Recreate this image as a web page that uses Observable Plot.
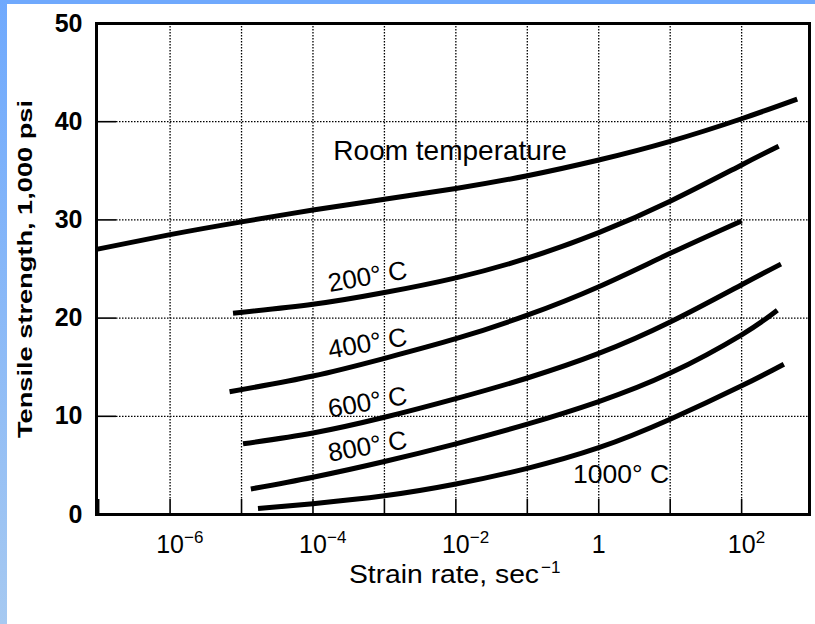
<!DOCTYPE html>
<html><head><meta charset="utf-8">
<script src="https://cdn.jsdelivr.net/npm/d3@7"></script>
<script src="https://cdn.jsdelivr.net/npm/@observablehq/plot@0.6"></script>
<style>
html,body{margin:0;padding:0;background:#fff;width:815px;height:624px;overflow:hidden;}
#chart{position:absolute;left:0;top:0;}
#topbar{position:absolute;left:0;top:0;width:815px;height:4px;background:#6fa9fd;z-index:2}
#leftbar{position:absolute;left:0;top:0;width:7px;height:624px;background:linear-gradient(#6fa9fd,#a6c9f1);z-index:2}
</style></head><body>
<div id="topbar"></div><div id="leftbar"></div><div id="chart"></div>
<script>
// ---- data ----
const seriesNames = ["Room temperature", "200° C", "400° C", "600° C", "800° C", "1000° C"];

const rateRoom = [9.3e-8, 1e-6, 1e-5, 1e-4, 1e-3, 1e-2, 0.1, 1, 10, 100, 600];
const strengthRoom = [27.0, 28.5, 29.8, 31.0, 32.1, 33.2, 34.5, 36.1, 38.0, 40.3, 42.3];

const rate200 = [7.6e-6, 1e-4, 1e-3, 1e-2, 0.1, 1, 10, 100, 330];
const strength200 = [20.5, 21.4, 22.6, 24.1, 26.1, 28.7, 31.9, 35.6, 37.5];

const rate400 = [6.8e-6, 1e-4, 1e-3, 1e-2, 0.1, 1, 10, 100];
const strength400 = [12.5, 14.1, 15.9, 17.9, 20.3, 23.2, 26.6, 29.9];

const rate600 = [1.05e-5, 1e-4, 1e-3, 1e-2, 0.1, 1, 10, 100, 355];
const strength600 = [7.2, 8.3, 9.9, 11.8, 13.9, 16.4, 19.6, 23.4, 25.5];

const rate800 = [1.35e-5, 1e-4, 1e-3, 1e-2, 0.1, 1, 10, 100, 316];
const strength800 = [2.6, 3.8, 5.4, 7.2, 9.2, 11.5, 14.4, 18.3, 20.8];

const rate1000 = [1.7e-5, 1e-4, 1e-3, 1e-2, 0.1, 1, 10, 100, 390];
const strength1000 = [0.6, 1.1, 1.9, 3.1, 4.7, 6.8, 9.7, 13.1, 15.3];

// annotation anchors (data units)
const labelText = ["Room temperature", "200° C", "400° C", "600° C", "800° C"];
const labelRate = [0.0083, 5.8e-4, 5.8e-4, 5.8e-4, 5.8e-4];
const labelStrength = [37.0, 24.2, 17.4, 11.4, 6.9];
const hotLabelText = ["1000° C"];
const hotLabelRate = [2.05];
const hotLabelStrength = [4.1];

const xTickRates = [1e-7, 1e-6, 1e-5, 1e-4, 1e-3, 1e-2, 1e-1, 1, 10, 100];
const xGridRates = [1e-6, 1e-5, 1e-4, 1e-3, 1e-2, 1e-1, 1, 10, 100];
const xLabelRates = [1e-6, 1e-4, 1e-2, 1, 100];
const xLabelBase = ["10", "10", "10", "1", "10"];
const xLabelExp = ["−6", "−4", "−2", "", "2"];
const yTicks = [0, 10, 20, 30, 40, 50];
const yGrid = [10, 20, 30, 40];

const xTitle = "Strain rate, sec";
const xTitleExp = "−1";
const yTitle = "Tensile strength, 1,000 psi";

// ---- build ----
const rates = [rateRoom, rate200, rate400, rate600, rate800, rate1000];
const strengths = [strengthRoom, strength200, strength400, strength600, strength800, strength1000];
const curves = seriesNames.flatMap((name, i) =>
  rates[i].map((r, j) => ({series: name, rate: r, strength: strengths[i][j]})));
const labels = labelText.map((t, i) => ({t, rate: labelRate[i], s: labelStrength[i]}));
const hotLabels = hotLabelText.map((t, i) => ({t, rate: hotLabelRate[i], s: hotLabelStrength[i]}));
const xLabels = xLabelRates.map((r, i) => ({r, base: xLabelBase[i], exp: xLabelExp[i]}));

const W = 815, H = 624, mL = 96, mR = 6, mT = 23, mB = 110;
const iw = W - mL - mR, ih = H - mT - mB;
const font = "Liberation Sans, Arial, sans-serif";

const chart = Plot.plot({
  width: W, height: H,
  marginLeft: mL, marginRight: mR, marginTop: mT, marginBottom: mB,
  style: {background: "transparent", fontFamily: font, color: "#000"},
  x: {type: "log", domain: [10 ** -7.03, 10 ** 2.95], axis: null},
  y: {domain: [0, 50], axis: null},
  marks: [
    // dotted grid
    Plot.tickX(xGridRates, {x: d => d, insetBottom: 15, stroke: "#000", strokeWidth: 1.3, strokeDasharray: "1.5,1.5"}),
    Plot.tickY(yGrid, {y: d => d, insetLeft: 20, stroke: "#000", strokeWidth: 1.3, strokeDasharray: "1.5,1.5"}),
    // inward solid ticks
    Plot.tickX(xTickRates, {x: d => d, insetTop: ih - 15, stroke: "#000", strokeWidth: 1.6}),
    Plot.tickY(yGrid, {y: d => d, insetRight: iw - 20, stroke: "#000", strokeWidth: 1.6}),
    // curves
    Plot.line(curves, {x: "rate", y: "strength", z: "series", stroke: "#000", strokeWidth: 5,
      strokeLinecap: "butt", curve: "natural"}),
    // frame
    Plot.frame({stroke: "#000", strokeWidth: 3}),
    // curve labels
    Plot.text(labels.slice(0, 1), {x: "rate", y: "s", text: "t", fontSize: 28, fill: "#000"}),
    Plot.text(labels.slice(1), {x: "rate", y: "s", text: "t", fontSize: 26, rotate: -10, fill: "#000"}),
    Plot.text(hotLabels, {x: "rate", y: "s", text: "t", fontSize: 26.5, fill: "#000"}),
    // y tick labels
    Plot.text(yTicks, {y: d => d, text: d => String(d), frameAnchor: "left", textAnchor: "end", dx: -14,
      fontSize: 25, fontWeight: "bold", fill: "#000"}),
    // x tick labels
    Plot.text(xLabels, {x: "r", text: "base", frameAnchor: "bottom", lineAnchor: "bottom", dy: 38,
      fontSize: 25, fill: "#000"}),
    Plot.text(xLabels, {x: "r", text: "exp", frameAnchor: "bottom", lineAnchor: "bottom", textAnchor: "start",
      dx: 14, dy: 28, fontSize: 17, fill: "#000"}),
    // axis titles
    Plot.text([xTitle], {text: d => d, frameAnchor: "bottom", lineAnchor: "bottom", textAnchor: "end",
      dx: 86, dy: 68, fontSize: 26, fill: "#000", className: "xtitle"}),
    Plot.text([xTitleExp], {text: d => d, frameAnchor: "bottom", lineAnchor: "bottom", textAnchor: "start",
      dx: 88, dy: 58, fontSize: 17, fill: "#000"}),
    Plot.text([yTitle], {text: d => d, frameAnchor: "left", textAnchor: "middle", lineAnchor: "middle",
      rotate: -90, dx: -71, fontSize: 21, fontWeight: "bold", fill: "#000", className: "ytitle"})
  ]
});
d3.select(chart).selectAll(".ytitle text")
  .attr("textLength", 338).attr("lengthAdjust", "spacingAndGlyphs");
d3.select(chart).selectAll(".xtitle text")
  .attr("textLength", 190).attr("lengthAdjust", "spacingAndGlyphs");
document.getElementById("chart").appendChild(chart);
</script>
</body></html>
